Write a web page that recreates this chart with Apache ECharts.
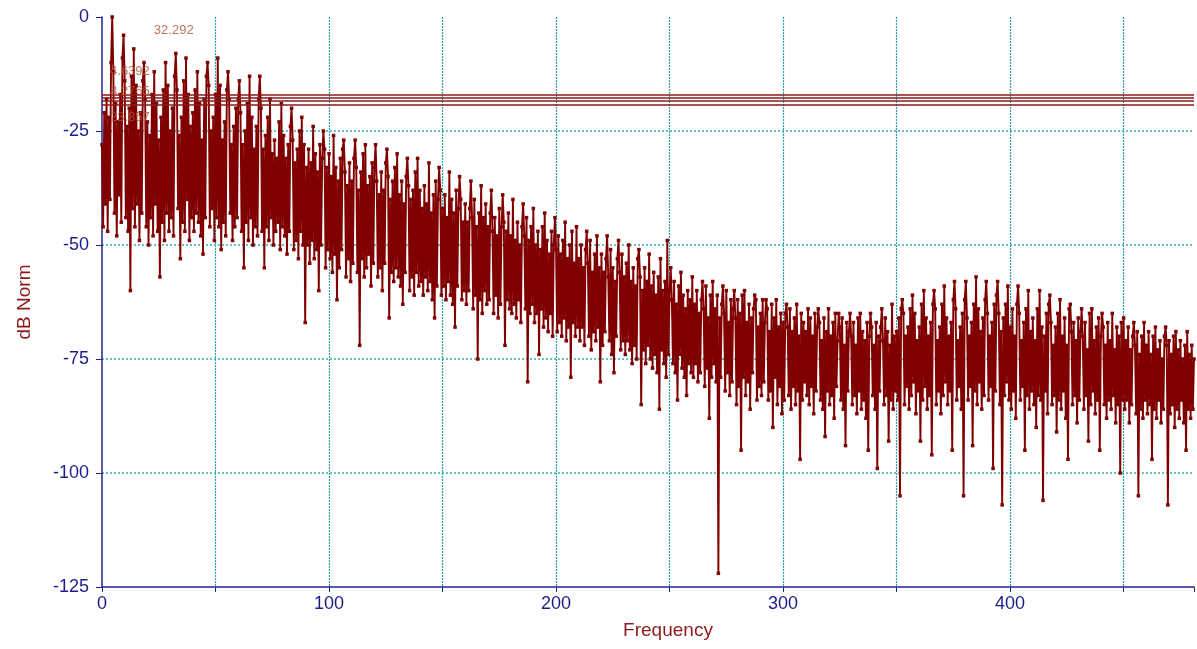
<!DOCTYPE html>
<html><head><meta charset="utf-8">
<script src="https://cdn.jsdelivr.net/npm/echarts@6/dist/echarts.min.js"></script>
<style>html,body{margin:0;padding:0;background:#fff}#c{width:1197px;height:649px}</style>
</head><body><div id="c"></div>
<script>
const freqStep = 0.5;
const spec0 = [
-28,-46,-21,-41,-18,-47,-22,-40,-10,0,-12,-43,-19,-48,-23,-39,-17,-45,-9,-4,
-14,-44,-24,-47,-20,-60,-13,-42,-7,-46,-15,-41,-25,-49,-21,-43,-14,-10,-18,-46,
-23,-50,-26,-44,-17,-48,-12,-41,-19,-47,-27,-57,-22,-45,-16,-49,-10,-43,-15,-47,
-25,-44,-20,-48,-13,-8,-16,-42,-26,-53,-22,-45,-14,-47,-9,-40,-17,-49,-24,-44,
-21,-47,-16,-43,-12,-45,-19,-48,-27,-52,-18,-44,-13,-10,-15,-46,-25,-42,-22,-49,
-17,-44,-9,-46,-15,-51,-27,-45,-23,-48,-16,-12,-18,-43,-28,-49,-24,-46,-20,-44,
-18,-14,-21,-47,-28,-55,-25,-45,-19,-49,-13,-44,-22,-50,-29,-46,-24,-48,-18,-13,
-20,-47,-29,-55,-26,-46,-22,-49,-18,-44,-30,-50,-27,-47,-31,-45,-23,-51,-19,-46,
-26,-48,-31,-52,-28,-47,-24,-20,-27,-51,-32,-49,-29,-53,-25,-47,-22,-50,-28,-67,
-33,-50,-29,-54,-32,-49,-24,-53,-30,-51,-34,-60,-28,-50,-31,-25,-29,-55,-33,-51
];
const spec1 = [
-30,-53,-35,-56,-26,-52,-33,-62,-36,-55,-31,-51,-29,-27,-34,-57,-37,-53,-32,-58,
-36,-54,-31,-27,-33,-56,-38,-72,-34,-53,-30,-57,-28,-55,-37,-52,-35,-59,-32,-54,
-33,-28,-36,-57,-39,-55,-34,-60,-38,-54,-32,-29,-35,-66,-40,-56,-36,-58,-33,-55,
-30,-57,-39,-59,-36,-63,-41,-56,-35,-31,-37,-60,-40,-57,-38,-61,-34,-56,-31,-59,
-38,-58,-42,-61,-37,-57,-41,-60,-32,-58,-43,-62,-39,-66,-36,-59,-40,-33,-38,-61,
-42,-59,-39,-62,-44,-58,-34,-61,-40,-63,-43,-68,-38,-59,-42,-35,-40,-62,-45,-60,
-41,-63,-45,-60,-42,-36,-44,-64,-40,-61,-46,-75,-43,-62,-37,-65,-44,-60,-41,-63,
-46,-62,-43,-38,-47,-65,-44,-61,-48,-66,-42,-63,-46,-39,-45,-72,-47,-62,-43,-64,
-48,-65,-40,-63,-49,-66,-45,-62,-50,-67,-46,-41,-48,-64,-44,-80,-49,-65,-46,-63,
-42,-67,-50,-65,-47,-74,-51,-64,-46,-68,-43,-66,-49,-69,-52,-65,-47,-70,-50,-44
];
const spec2 = [
-51,-69,-48,-67,-52,-70,-49,-66,-45,-71,-53,-68,-50,-79,-47,-67,-54,-70,-46,-68,
-53,-71,-50,-68,-55,-72,-51,-47,-54,-70,-49,-73,-56,-69,-52,-71,-48,-68,-55,-80,
-52,-72,-56,-69,-53,-48,-57,-71,-51,-74,-55,-78,-58,-70,-53,-49,-56,-73,-52,-71,
-57,-74,-54,-71,-50,-73,-58,-76,-55,-72,-59,-75,-53,-51,-57,-85,-60,-73,-55,-76,
-58,-72,-52,-75,-59,-77,-56,-74,-61,-78,-57,-86,-53,-73,-60,-76,-58,-79,-49,-74,
-60,-55,-62,-76,-58,-78,-63,-84,-59,-74,-56,-77,-61,-79,-64,-83,-60,-76,-62,-78,
-57,-79,-63,-76,-60,-80,-65,-78,-62,-58,-64,-81,-59,-77,-66,-88,-61,-79,-58,-76,
-64,-80,-61,-122,-66,-79,-63,-59,-65,-82,-60,-78,-67,-83,-62,-80,-64,-60,-66,-85,
-62,-81,-65,-95,-61,-79,-60,-83,-67,-80,-63,-86,-66,-78,-64,-61,-62,-84,-68,-81,
-65,-83,-62,-80,-67,-62,-64,-84,-69,-82,-63,-90,-66,-79,-62,-85,-68,-81,-65,-87
];
const spec3 = [
-67,-84,-65,-63,-68,-83,-64,-86,-69,-81,-66,-85,-63,-82,-70,-97,-65,-84,-67,-80,
-69,-83,-64,-85,-66,-81,-70,-87,-65,-82,-68,-64,-67,-84,-71,-86,-66,-92,-69,-82,
-64,-85,-70,-83,-67,-88,-65,-81,-71,-65,-68,-84,-66,-86,-72,-94,-67,-82,-69,-65,
-70,-85,-67,-83,-72,-87,-66,-82,-65,-86,-69,-84,-71,-88,-67,-95,-70,-65,-68,-83,
-72,-86,-67,-99,-70,-82,-68,-64,-71,-85,-66,-83,-69,-93,-72,-84,-63,-86,-70,-82,
-69,-84,-66,-105,-64,-62,-65,-85,-70,-81,-68,-86,-64,-83,-61,-80,-65,-87,-71,-82,
-68,-93,-63,-84,-60,-81,-66,-86,-70,-83,-67,-96,-63,-60,-64,-85,-71,-82,-68,-87,
-63,-83,-59,-80,-66,-85,-70,-82,-67,-95,-62,-58,-64,-84,-71,-81,-68,-86,-65,-105,
-62,-58,-66,-84,-70,-81,-67,-94,-63,-82,-57,-85,-64,-80,-69,-86,-66,-83,-62,-58,
-65,-84,-70,-81,-67,-99,-63,-82,-61,-58,-65,-85,-69,-107,-66,-83,-63,-80,-59,-84
];
const spec4 = [
-68,-86,-64,-82,-70,-88,-63,-59,-65,-84,-71,-81,-67,-95,-64,-83,-60,-86,-69,-82,
-66,-85,-71,-90,-64,-83,-60,-84,-68,-106,-70,-82,-65,-87,-63,-61,-67,-85,-72,-83,
-68,-91,-65,-84,-62,-86,-70,-82,-66,-88,-72,-97,-64,-63,-69,-85,-67,-83,-71,-89,
-66,-84,-69,-64,-70,-86,-67,-83,-73,-93,-65,-85,-64,-82,-71,-87,-68,-84,-66,-95,
-70,-65,-68,-85,-72,-88,-67,-84,-71,-86,-65,-83,-73,-89,-68,-85,-70,-100,-67,-84,
-66,-86,-71,-84,-68,-89,-73,-85,-70,-67,-72,-87,-69,-105,-74,-86,-70,-88,-67,-84,
-72,-87,-69,-85,-74,-97,-70,-86,-68,-88,-73,-84,-71,-89,-75,-86,-70,-68,-72,-107,
-71,-87,-74,-85,-70,-90,-69,-86,-73,-88,-71,-84,-75,-89,-72,-95,-69,-86,-74,-88,
-72,-86,-75
];
const markerLevels = [-17, -17.6, -18.4, -19.2];
const peakLabels = ["32.292", "4.6392", "8.2765", "23.857"];
const peakLabelX = [31.6, 12.3, 12.3, 12.3];
const peakLabelY = [-2.9, -12, -16.4, -22.1];

const values = spec0.concat(spec1, spec2, spec3, spec4);
const lineData = values.map((v, i) => [i * freqStep, v]);

const axisColor = '#22228a';
const labelColor = '#1c1c8c';
const nameColor = '#8b1a1a';
const gridColor = '#2aa3a3';
const font = 'Liberation Sans, Arial, sans-serif';

const chart = echarts.init(document.getElementById('c'), null, {renderer: 'canvas'});
chart.setOption({
  animation: false,
  backgroundColor: '#ffffff',
  grid: {left: 102, right: 0, top: 17, bottom: 62, containLabel: false},
  xAxis: {
    type: 'value', min: 0, max: 481, interval: 50,
    name: 'Frequency', nameLocation: 'middle', nameGap: 34,
    nameTextStyle: {color: nameColor, fontSize: 19, fontFamily: font, padding: [0, 0, 0, 40]},
    axisLine: {show: true, onZero: false, lineStyle: {color: axisColor, width: 1.5}},
    axisTick: {show: true, length: 5, lineStyle: {color: axisColor, width: 1}},
    axisLabel: {color: labelColor, fontSize: 18, fontFamily: font, margin: 8,
      formatter: v => (v % 100 === 0 ? String(v) : '')},
    splitLine: {show: true, showMaxLine: false, showMinLine: false,
      lineStyle: {type: [2, 1], color: gridColor, width: 1.2}}
  },
  yAxis: {
    type: 'value', min: -125, max: 0, interval: 25,
    name: 'dB Norm', nameLocation: 'middle', nameGap: 68, nameRotate: 90,
    nameTextStyle: {color: nameColor, fontSize: 19, fontFamily: font},
    axisLine: {show: true, onZero: false, lineStyle: {color: axisColor, width: 1.5}},
    axisTick: {show: true, length: 6, lineStyle: {color: axisColor, width: 1}},
    axisLabel: {color: labelColor, fontSize: 18, fontFamily: font, margin: 13},
    splitLine: {show: true, showMaxLine: false, showMinLine: false,
      lineStyle: {type: [2, 2], color: '#3ab0b0', width: 1.5}}
  },
  series: [
    {
      type: 'line', z: 3, data: lineData,
      symbol: 'rect', symbolSize: 3.5, showAllSymbol: true, silent: true,
      lineStyle: {color: '#800000', width: 1.9},
      itemStyle: {color: '#800000'},
      markLine: {
        silent: true, symbol: 'none', label: {show: false},
        lineStyle: {color: '#8b1a1a', width: 1.5, type: 'solid'},
        data: markerLevels.map(v => ({yAxis: v}))
      }
    },
    {
      type: 'scatter', z: 5, symbolSize: 0, silent: true,
      data: peakLabels.map((t, i) => ({name: t, value: [peakLabelX[i], peakLabelY[i]]})),
      label: {show: true, position: 'inside', formatter: '{b}', color: '#b0502e', fontSize: 13, fontFamily: font}
    }
  ]
});
</script></body></html>
